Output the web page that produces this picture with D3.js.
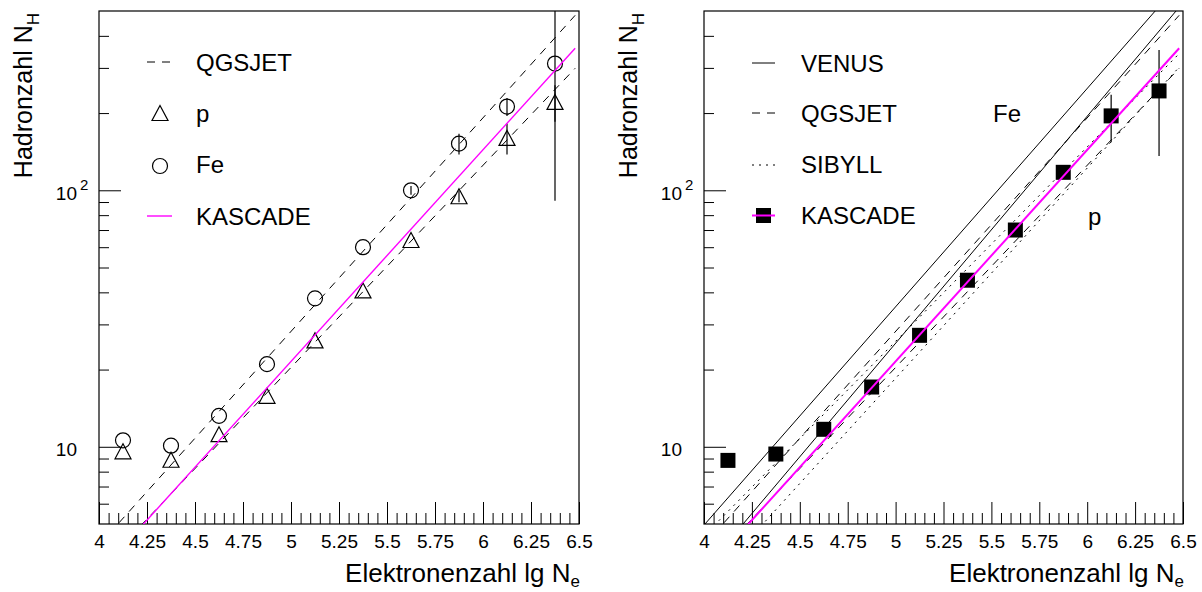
<!DOCTYPE html>
<html>
<head>
<meta charset="utf-8">
<script src="https://cdn.jsdelivr.net/npm/d3@7"></script>
<style>
  body { margin: 0; background: #fff; }
  text { font-family: "Liberation Sans", Arial, sans-serif; fill: #000; }
</style>
</head>
<body>
<div id="holder"></div>
<script>
const w = 1202;
const h = 592;

// DATA
const lgNe = [4.125, 4.375, 4.625, 4.875, 5.125, 5.375, 5.625, 5.875, 6.125, 6.375];

// left panel: QGSJET simulation points
const feQgsjet = [10.6, 10.1, 13.2, 21.0, 37.9, 60, 100, 152, 212, 312];
const feQgsjetErr = [0, 0, 0, 0, 0, 0, 4, 14, 17, 221];
const pQgsjet = [9.6, 8.9, 11.2, 15.8, 26, 40.7, 64, 94.8, 160, 221];
const pQgsjetErr = [0, 0, 0, 0, 0, 0, 0, 5, 22, 36];

// right panel: measured points
const kascade = [8.85, 9.37, 11.7, 17.1, 27.2, 44.6, 70, 117.5, 195, 244];
const kascadeErr = [0, 0, 0, 0, 0, 0, 0, 5, 41, 108];

// fitted power laws: N_H at the two ends of the fit range
const fitRange = [4, 6.48];
const qgsjetFeFit = [4.14, 481];
const qgsjetPFit = [3.32, 299];
const kascadeFit = [3.22, 358];
const venusFeFit = [4.95, 639];
const venusPFit = [3.30, 517];
const sibyllFeFit = [4.50, 341];
const sibyllPFit = [2.80, 302];

// axis ticks
const xMajor = [4, 4.25, 4.5, 4.75, 5, 5.25, 5.5, 5.75, 6, 6.25, 6.5];
const xMinor = d3.range(0, 51).map(i => 4 + i * 0.05).filter(v => Math.abs(v * 4 - Math.round(v * 4)) > 1e-6);
const yMajor = [10, 100];
const yMinor = [6, 7, 8, 9, 20, 30, 40, 50, 60, 70, 80, 90, 200, 300, 400];

const yTop = 11, yBottom = 524;
const MAGENTA = "#ff00ff";
const DASH = "8,7";
const DOT = "2,5";

const svg = d3.select("#holder").append("svg")
    .attr("width", w)
    .attr("height", h);

function makePanel(id, x0, x1) {
    const x = d3.scaleLinear().domain([4, 6.5]).range([x0, x1]);
    const y = d3.scaleLog().domain([5, 500]).range([yBottom, yTop]);
    const g = svg.append("g").attr("id", id);

    g.append("clipPath").attr("id", "clip-" + id)
        .append("rect")
        .attr("x", x0).attr("y", yTop)
        .attr("width", x1 - x0).attr("height", yBottom - yTop);

    // X AXIS (ticks pointing up into the frame)
    g.append("g")
        .attr("transform", "translate(0," + yBottom + ")")
        .call(d3.axisBottom(x).tickValues(xMinor).tickSize(-11).tickFormat(""))
        .call(a => a.select(".domain").remove());
    g.append("g")
        .attr("transform", "translate(0," + yBottom + ")")
        .call(d3.axisBottom(x).tickValues(xMajor).tickSize(-22).tickPadding(11)
            .tickFormat(d => d3.format("")(d)))
        .call(a => a.select(".domain").remove())
        .call(a => a.selectAll("text").style("font-size", "19px")
            .style("font-family", '"Liberation Sans", Arial, sans-serif'));

    // Y AXIS (log)
    g.append("g")
        .attr("transform", "translate(" + x0 + ",0)")
        .call(d3.axisLeft(y).tickValues(yMinor).tickSize(-10).tickFormat(""))
        .call(a => a.select(".domain").remove());
    g.append("g")
        .attr("transform", "translate(" + x0 + ",0)")
        .call(d3.axisLeft(y).tickValues(yMajor).tickSize(-22).tickFormat(""))
        .call(a => a.select(".domain").remove());

    yMajor.forEach(v => {
        g.append("text")
            .attr("x", x0 - 22)
            .attr("y", y(v) + 9.5)
            .attr("text-anchor", "end")
            .style("font-size", "19px")
            .text("10");
        if (v === 100) {
            g.append("text")
                .attr("x", x0 - 19)
                .attr("y", y(v))
                .style("font-size", "15px")
                .text("2");
        }
    });

    // FRAME
    g.append("rect")
        .attr("x", x0).attr("y", yTop)
        .attr("width", x1 - x0).attr("height", yBottom - yTop)
        .attr("fill", "none")
        .attr("stroke", "#000")
        .attr("stroke-width", 1.2);

    // AXIS TITLES
    g.append("text")
        .attr("x", x1 + 1)
        .attr("y", 582)
        .attr("text-anchor", "end")
        .style("font-size", "26px")
        .text("Elektronenzahl lg N")
        .append("tspan")
        .attr("dy", 5)
        .style("font-size", "17px")
        .text("e");

    g.append("text")
        .attr("transform", "translate(" + (x0 - 67) + "," + 13 + ") rotate(-90)")
        .attr("text-anchor", "end")
        .style("font-size", "25px")
        .text("Hadronzahl N")
        .append("tspan")
        .attr("dy", 7)
        .style("font-size", "17px")
        .text("H");

    const plot = g.append("g").attr("clip-path", "url(#clip-" + id + ")");
    return { x, y, g, plot };
}

function fitLine(p, ends, color, width, dash) {
    const line = d3.line().x(d => p.x(d[0])).y(d => p.y(d[1]));
    p.plot.append("path")
        .datum(fitRange.map((r, i) => [r, ends[i]]))
        .attr("d", line)
        .attr("fill", "none")
        .attr("stroke", color)
        .attr("stroke-width", width)
        .attr("stroke-dasharray", dash);
}

function errorBars(p, vals, errs) {
    p.plot.selectAll(null)
        .data(lgNe.map((d, i) => [d, vals[i], errs[i]]).filter(d => d[2] > 0))
        .enter()
        .append("line")
        .attr("x1", d => p.x(d[0])).attr("x2", d => p.x(d[0]))
        .attr("y1", d => p.y(d[1] + d[2]))
        .attr("y2", d => p.y(Math.max(d[1] - d[2], 1)))
        .attr("stroke", "#000")
        .attr("stroke-width", 1.2);
}

// ---------------- LEFT PANEL ----------------
const L = makePanel("left", 99, 579);

fitLine(L, qgsjetFeFit, "#000", 1, DASH);
fitLine(L, qgsjetPFit, "#000", 1, DASH);
errorBars(L, feQgsjet, feQgsjetErr);
errorBars(L, pQgsjet, pQgsjetErr);

L.plot.selectAll("circle.fe")
    .data(lgNe.map((d, i) => [d, feQgsjet[i]]))
    .enter()
    .append("circle")
    .attr("class", "fe")
    .attr("cx", d => L.x(d[0]))
    .attr("cy", d => L.y(d[1]))
    .attr("r", 7.5)
    .attr("fill", "none")
    .attr("stroke", "#000")
    .attr("stroke-width", 1.2);

L.plot.selectAll("path.p")
    .data(lgNe.map((d, i) => [d, pQgsjet[i]]))
    .enter()
    .append("path")
    .attr("class", "p")
    .attr("d", "M0,-7.5L8,7.5L-8,7.5Z")
    .attr("transform", d => "translate(" + L.x(d[0]) + "," + L.y(d[1]) + ")")
    .attr("fill", "none")
    .attr("stroke", "#000")
    .attr("stroke-width", 1.2);

fitLine(L, kascadeFit, MAGENTA, 1.4, null);

// LEGEND
const legL = L.g.append("g");
legL.append("line").attr("x1", 147).attr("x2", 172).attr("y1", 62).attr("y2", 62)
    .attr("stroke", "#000").attr("stroke-dasharray", DASH);
legL.append("path").attr("d", "M0,-7.5L8,7.5L-8,7.5Z")
    .attr("transform", "translate(160,113)")
    .attr("fill", "none").attr("stroke", "#000").attr("stroke-width", 1.2);
legL.append("circle").attr("cx", 160).attr("cy", 166).attr("r", 7.5)
    .attr("fill", "none").attr("stroke", "#000").attr("stroke-width", 1.2);
legL.append("line").attr("x1", 147).attr("x2", 172).attr("y1", 216).attr("y2", 216)
    .attr("stroke", MAGENTA).attr("stroke-width", 1.4);
[["QGSJET", 71], ["p", 122], ["Fe", 173], ["KASCADE", 225]].forEach(d => {
    legL.append("text").attr("x", 196).attr("y", d[1])
        .style("font-size", "24px").text(d[0]);
});

// ---------------- RIGHT PANEL ----------------
const R = makePanel("right", 704, 1183);

fitLine(R, venusFeFit, "#000", 1, null);
fitLine(R, venusPFit, "#000", 1, null);
fitLine(R, qgsjetFeFit, "#000", 1, DASH);
fitLine(R, qgsjetPFit, "#000", 1, DASH);
fitLine(R, sibyllFeFit, "#000", 1, DOT);
fitLine(R, sibyllPFit, "#000", 1, DOT);

errorBars(R, kascade, kascadeErr);

R.plot.selectAll("rect.k")
    .data(lgNe.map((d, i) => [d, kascade[i]]))
    .enter()
    .append("rect")
    .attr("class", "k")
    .attr("x", d => R.x(d[0]) - 7.5)
    .attr("y", d => R.y(d[1]) - 7.5)
    .attr("width", 15)
    .attr("height", 15)
    .attr("fill", "#000");

fitLine(R, kascadeFit, MAGENTA, 2, null);

// LEGEND
const legR = R.g.append("g");
legR.append("line").attr("x1", 752).attr("x2", 775).attr("y1", 63).attr("y2", 63)
    .attr("stroke", "#000");
legR.append("line").attr("x1", 752).attr("x2", 775).attr("y1", 113).attr("y2", 113)
    .attr("stroke", "#000").attr("stroke-dasharray", DASH);
legR.append("line").attr("x1", 752).attr("x2", 775).attr("y1", 165).attr("y2", 165)
    .attr("stroke", "#000").attr("stroke-dasharray", DOT);
legR.append("rect").attr("x", 756).attr("y", 208).attr("width", 15).attr("height", 15)
    .attr("fill", "#000");
legR.append("line").attr("x1", 752).attr("x2", 775).attr("y1", 215.5).attr("y2", 215.5)
    .attr("stroke", MAGENTA).attr("stroke-width", 2);
[["VENUS", 72], ["QGSJET", 122], ["SIBYLL", 173], ["KASCADE", 224]].forEach(d => {
    legR.append("text").attr("x", 801).attr("y", d[1])
        .style("font-size", "24px").text(d[0]);
});
R.g.append("text").attr("x", 993).attr("y", 122).style("font-size", "24px").text("Fe");
R.g.append("text").attr("x", 1088).attr("y", 225).style("font-size", "24px").text("p");
</script>
</body>
</html>
